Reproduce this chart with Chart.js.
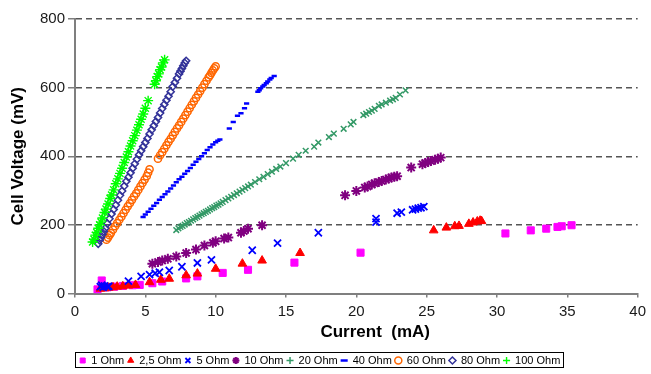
<!DOCTYPE html>
<html>
<head>
<meta charset="utf-8">
<title>Cell voltage vs current</title>
<script src="https://cdn.jsdelivr.net/npm/chart.js@4.4.1/dist/chart.umd.min.js"></script>
<style>
  html, body { margin: 0; padding: 0; background: #fff; }
  canvas { display: block; }
</style>
</head>
<body>
<canvas id="chart" width="651" height="374"></canvas>
<script>
// values: current (mA) and cell voltage (mV) per load
const seriesNames = ['1 Ohm', '2,5 Ohm', '5 Ohm', '10 Ohm', '20 Ohm', '40 Ohm', '60 Ohm', '80 Ohm', '100 Ohm'];
const xTicks = [0, 5, 10, 15, 20, 25, 30, 35, 40];
const yTicks = [0, 200, 400, 600, 800];

const ohm1X = [1.6, 1.9, 2.3, 2.8, 3.4, 4.1, 4.6, 5.5, 6.2, 7.9, 8.7, 10.5, 12.3, 15.6, 20.3, 30.6, 32.4, 33.5, 34.3, 34.6, 35.3];
const ohm1Y = [12, 38, 18, 20, 22, 24, 25, 30, 35, 44, 50, 60, 69, 90, 119, 175, 184, 189, 194, 196, 199];

const ohm2_5X = [1.8, 2.1, 2.4, 2.7, 3.0, 3.4, 3.8, 4.3, 5.3, 6.1, 6.7, 7.9, 8.7, 10.0, 11.9, 13.3, 16.0, 25.5, 26.4, 27.0, 27.3, 28.0, 28.3, 28.6, 28.8, 28.9];
const ohm2_5Y = [14, 15, 17, 18, 20, 21, 23, 25, 33, 40, 43, 53, 58, 72, 87, 96, 118, 184, 192, 196, 197, 203, 207, 210, 212, 211];

const ohm5X = [1.8, 1.9, 2.0, 2.1, 2.3, 2.4, 3.8, 4.7, 5.3, 5.7, 6.0, 6.7, 7.6, 8.7, 9.7, 12.6, 14.4, 17.3, 21.4, 21.4, 22.9, 23.2, 24.0, 24.2, 24.4, 24.6, 24.8];
const ohm5Y = [20, 24, 18, 22, 20, 21, 36, 50, 55, 59, 62, 67, 78, 89, 98, 126, 147, 177, 208, 218, 234, 237, 244, 246, 249, 250, 253];

const ohm10X = [5.5, 5.9, 6.2, 6.6, 7.2, 7.9, 8.6, 9.2, 9.8, 10.0, 10.6, 10.9, 11.8, 12.0, 12.3, 13.3,
  19.2, 20.0, 20.6, 20.8, 21.1, 21.3, 21.6, 21.8, 22.1, 22.3, 22.5, 22.7, 22.9, 23.9, 24.7, 24.9, 25.1, 25.3, 25.6, 25.8, 26.0];
const ohm10Y = [87, 92, 96, 101, 108, 118, 128, 140, 148, 152, 160, 163, 177, 182, 189, 199,
  286, 299, 309, 312, 318, 321, 325, 328, 332, 335, 338, 340, 342, 367, 377, 380, 383, 386, 390, 393, 396];

const ohm20X = [7.2, 7.35, 7.5, 7.65, 7.8, 7.95, 8.1, 8.25, 8.4, 8.55, 8.7, 8.85, 9.0, 9.15, 9.3, 9.45, 9.6, 9.75, 9.9, 10.05,
  10.2, 10.35, 10.5, 10.7, 10.9, 11.1, 11.3, 11.5, 11.7, 11.9, 12.1, 12.3, 12.5, 12.8, 13.1, 13.4, 13.7, 14.0, 14.3, 14.6,
  15.0, 15.5, 15.9, 16.4, 17.0, 17.3, 18.05, 18.4, 19.1, 19.6, 19.8, 20.5, 20.7, 20.9, 21.1, 21.3, 21.6, 21.8, 22.1, 22.4, 22.6, 22.8, 23.1, 23.5];
const ohm20Y = [185, 190, 194, 197, 201, 205, 208, 212, 216, 220, 223, 227, 231, 234, 238, 241, 245, 249, 252, 256,
  259, 263, 267, 272, 277, 282, 287, 292, 297, 302, 307, 312, 317, 325, 333, 340, 348, 355, 363, 370,
  380, 393, 404, 416, 428, 440, 456, 466, 480, 493, 500, 520, 524, 529, 533, 538, 547, 551, 556, 562, 566, 570, 580, 592];

const ohm40X = [4.84, 5.0, 5.2, 5.4, 5.6, 5.8, 6.0, 6.2, 6.4, 6.6, 6.8, 7.0, 7.2, 7.4, 7.6, 7.8, 8.0, 8.2, 8.4, 8.6, 8.8, 9.0, 9.2, 9.4, 9.6, 9.8, 10.0, 10.15, 10.3,
  10.97, 11.25, 11.55, 11.8, 12.05, 12.2, 13.0, 13.1, 13.2, 13.35, 13.45, 13.6, 13.7, 13.85, 13.95, 14.16];
const ohm40Y = [223, 230, 238, 247, 256, 264, 273, 281, 289, 297, 306, 315, 324, 333, 340, 349, 357, 366, 375, 384, 392, 400, 409, 418, 426, 434, 441, 445, 449,
  481, 500, 518, 525, 540, 554, 588, 592, 598, 603, 608, 613, 618, 624, 628, 634];

const ohm60X = [2.24, 2.35, 2.45, 2.55, 2.7, 2.85, 3.0, 3.15, 3.3, 3.45, 3.6, 3.75, 3.9, 4.05, 4.2, 4.35, 4.5, 4.65, 4.8, 4.95, 5.1, 5.2, 5.3,
  5.9, 6.05, 6.2, 6.35, 6.5, 6.65, 6.8, 6.95, 7.1, 7.25, 7.4, 7.55, 7.7, 7.85, 8.0, 8.15, 8.3, 8.45, 8.6, 8.75, 8.9, 9.05, 9.2, 9.35, 9.5, 9.6, 9.7, 9.8, 9.9, 10.0];
const ohm60Y = [157, 163, 170, 176, 186, 196, 205, 215, 224, 234, 244, 254, 263, 273, 283, 292, 302, 312, 322, 332, 342, 352, 362,
  393, 403, 412, 422, 432, 442, 451, 461, 471, 481, 490, 500, 510, 520, 530, 540, 550, 560, 570, 580, 590, 600, 610, 620, 630, 636, 643, 650, 656, 662];

const ohm80X = [1.65, 1.75, 1.85, 1.95, 2.05, 2.15, 2.3, 2.45, 2.6, 2.75, 2.9, 3.05, 3.2, 3.35, 3.5, 3.65, 3.8, 3.95, 4.1, 4.25, 4.4, 4.55, 4.7,
  4.85, 5.0, 5.15, 5.3, 5.45, 5.6, 5.75, 5.9, 6.05, 6.2, 6.35, 6.5, 6.65, 6.8, 6.95, 7.1, 7.25, 7.4, 7.5, 7.6, 7.7, 7.8, 7.9];
const ohm80Y = [145, 155, 163, 172, 181, 190, 204, 218, 232, 245, 258, 272, 286, 299, 313, 327, 339, 352, 365, 378, 391, 404, 416,
  428, 440, 452, 465, 477, 489, 501, 513, 526, 539, 551, 563, 575, 588, 603, 615, 627, 640, 648, 656, 664, 672, 678];

const ohm100X = [1.25, 1.35, 1.45, 1.55, 1.65, 1.75, 1.85, 1.95, 2.1, 2.2, 2.35, 2.5, 2.6, 2.75, 2.9, 3.05, 3.2, 3.35, 3.5, 3.65,
  3.8, 3.95, 4.1, 4.25, 4.4, 4.55, 4.7, 4.85, 5.0, 5.2, 5.66, 5.75, 5.85, 5.95, 6.05, 6.15, 6.25, 6.37];
const ohm100Y = [150, 158, 170, 178, 190, 200, 208, 220, 236, 246, 261, 277, 287, 302, 320, 334, 350, 365, 382, 398,
  413, 430, 445, 460, 476, 492, 508, 523, 540, 562, 610, 620, 632, 640, 652, 660, 672, 681];

const seriesX = [ohm1X, ohm2_5X, ohm5X, ohm10X, ohm20X, ohm40X, ohm60X, ohm80X, ohm100X];
const seriesY = [ohm1Y, ohm2_5Y, ohm5Y, ohm10Y, ohm20Y, ohm40Y, ohm60Y, ohm80Y, ohm100Y];

// marker look per series
const colors = ['#FF00FF', '#FF0000', '#0000FF', '#800080', '#339966', '#0000FF', '#FF6600', '#333399', '#00FF00'];
const markers = ['rect', 'triangle', 'crossRot', 'star', 'crossRot', 'line', 'circle', 'rectRot', 'star'];
const legendMarkers = ['rect', 'triangle', 'crossRot', 'star', 'cross', 'line', 'circle', 'rectRot', 'cross'];
const sizes = [5, 5, 5, 5, 4, 2.6, 3.6, 3.6, 5];
const widths = [1, 1, 1.8, 2, 1.5, 2.5, 1.5, 1.5, 1.4];
const filled = [true, true, false, false, false, false, false, false, false];

const font = 'Arial, "Liberation Sans", sans-serif';

const datasets = seriesNames.map((name, i) => ({
    label: name,
    data: seriesX[i].map((x, j) => ({ x: x, y: seriesY[i][j] })),
    pointStyle: markers[i],
    pointRadius: sizes[i],
    pointHoverRadius: sizes[i],
    pointBorderWidth: widths[i],
    borderColor: colors[i],
    backgroundColor: filled[i] ? colors[i] : 'rgba(0,0,0,0)',
    order: seriesNames.length - i
}));

// box round the legend like the original
const legendBox = {
    id: 'legendBox',
    afterDraw(chart) {
        const boxes = chart.legend.legendHitBoxes;
        if (!boxes || !boxes.length) return;
        const first = boxes[0], last = boxes[boxes.length - 1];
        const ctx = chart.ctx;
        ctx.save();
        ctx.strokeStyle = '#000';
        ctx.lineWidth = 1;
        const left = Math.round(first.left) - 4.5;
        const right = Math.round(last.left + last.width) + 3.5;
        const top = Math.round(first.top) - 2.5;
        ctx.strokeRect(left, top, right - left, first.height + 4);
        ctx.restore();
    }
};

new Chart(document.getElementById('chart'), {
    type: 'scatter',
    data: { datasets: datasets },
    plugins: [legendBox],
    options: {
        responsive: false,
        animation: false,
        layout: { padding: { left: 0, right: 11, top: 19, bottom: -2 } },
        plugins: {
            tooltip: { enabled: false },
            legend: {
                position: 'bottom',
                reverse: true,
                labels: {
                    usePointStyle: true,
                    boxWidth: 6,
                    boxHeight: 5,
                    padding: 3.5,
                    color: '#000',
                    font: { family: font, size: 11 },
                    generateLabels: chart => Chart.defaults.plugins.legend.labels.generateLabels(chart)
                        .map(l => { l.pointStyle = legendMarkers[l.datasetIndex]; return l; })
                }
            }
        },
        scales: {
            x: {
                type: 'linear',
                min: xTicks[0],
                max: xTicks[xTicks.length - 1],
                afterBuildTicks: s => { s.ticks = xTicks.map(v => ({ value: v })); },
                afterFit: s => { s.height = 58; },
                grid: { drawOnChartArea: false, tickLength: 4, color: '#7f7f7f', lineWidth: 1.5 },
                border: { display: true, color: '#7f7f7f', width: 2 },
                ticks: { padding: 5, color: '#1a1a1a', font: { family: font, size: 15 } },
                title: {
                    display: true,
                    text: '        Current  (mA)',
                    color: '#000',
                    font: { family: font, size: 17, weight: 'bold' },
                    padding: { top: 0, bottom: 9 }
                }
            },
            y: {
                type: 'linear',
                min: yTicks[0],
                max: yTicks[yTicks.length - 1],
                afterBuildTicks: s => { s.ticks = yTicks.map(v => ({ value: v })); },
                afterFit: s => { s.width = 75; },
                grid: {
                    color: c => (c.tick && c.tick.value === 0) ? 'rgba(0,0,0,0)' : '#555555',
                    lineWidth: 1.5,
                    tickColor: '#7f7f7f',
                    tickLength: 7
                },
                border: { display: true, color: '#7f7f7f', width: 2, dash: [6, 4] },
                ticks: { padding: 3, color: '#1a1a1a', font: { family: font, size: 15 } },
                title: {
                    display: true,
                    text: 'Cell Voltage (mV)',
                    color: '#000',
                    font: { family: font, size: 17, weight: 'bold' },
                    padding: { top: 8, bottom: 0 }
                }
            }
        }
    }
});
</script>
</body>
</html>
